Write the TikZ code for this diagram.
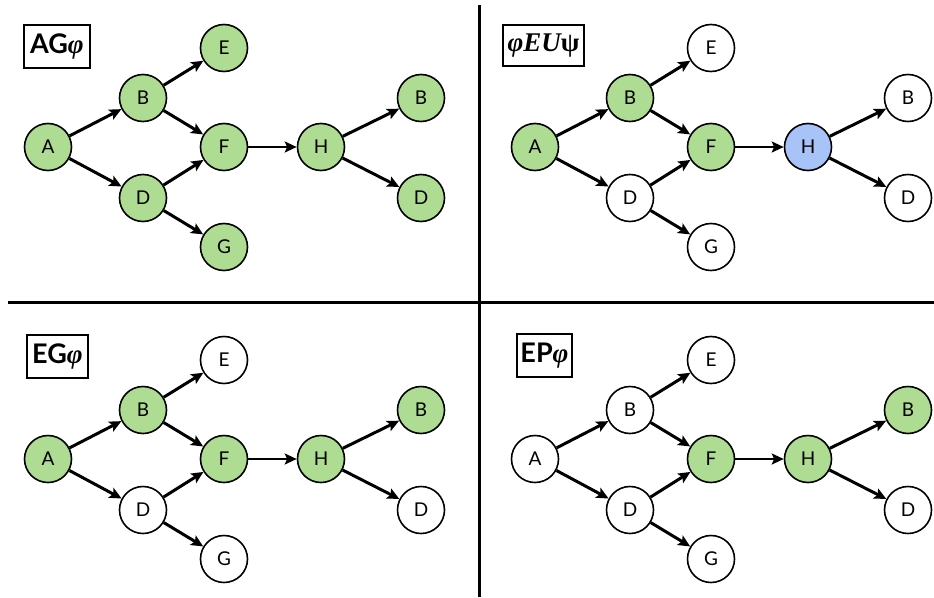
\documentclass[tikz,border=0pt]{standalone}
\usepackage{fontspec}
\setsansfont{Lato}
\newfontfamily\tms{Liberation Serif}
\usetikzlibrary{arrows.meta}
\definecolor{ngreen}{RGB}{174,220,146}
\definecolor{nblue}{RGB}{168,195,248}
\newcommand{\phisym}{{\tms\bfseries\itshape φ}}
\tikzset{
  st/.style={circle,draw=black,line width=1.6pt,minimum size=47pt,inner sep=0pt,
    font=\sffamily\fontsize{19}{19}\selectfont},
  gn/.style={st,fill=ngreen},
  wn/.style={st,fill=white},
  bn/.style={st,fill=nblue},
  edge/.style={line width=3pt,-{Stealth[length=12pt,width=11pt,inset=2.5pt]}},
  lbl/.style={draw=black,line width=1.4pt,fill=white,inner sep=0pt,
    font=\sffamily\bfseries\fontsize{27}{27}\selectfont},
  divider/.style={line width=3pt}
}
\newcommand{\mygraph}[9]{%
  \node[#1] (A) at (48,147) {A};
  \node[#2] (B) at (143,98) {B};
  \node[#3] (D) at (143,198) {D};
  \node[#4] (E) at (224,48) {E};
  \node[#5] (F) at (224,147) {F};
  \node[#6] (G) at (224,247) {G};
  \node[#7] (H) at (321,147) {H};
  \node[#8] (B2) at (421,98) {B};
  \node[#9] (D2) at (421,198) {D};
  \draw[edge] (A) -- (B);
  \draw[edge] (A) -- (D);
  \draw[edge] (B) -- (E);
  \draw[edge] (B) -- (F);
  \draw[edge] (D) -- (F);
  \draw[edge] (D) -- (G);
  \draw[edge,line width=2.4pt] (F) -- (H);
  \draw[edge] (H) -- (B2);
  \draw[edge] (H) -- (D2);
}
\begin{document}
\begin{tikzpicture}[x=1pt,y=-1pt]
\useasboundingbox (0,0) rectangle (934,597);
\fill[white] (0,0) rectangle (934,597);
% dividers
\coordinate (vt) at (479,5);
\coordinate (vb) at (479,597);
\coordinate (hl) at (8,302);
\coordinate (hr) at (934,302);
\draw[divider] (vt) -- (vb);
\draw[divider] (hl) -- (hr);
% panels
\begin{scope}[name prefix=tl-]
  \mygraph{gn}{gn}{gn}{gn}{gn}{gn}{gn}{gn}{gn}
\end{scope}
\begin{scope}[shift={(487,0)},name prefix=tr-]
  \mygraph{gn}{gn}{wn}{wn}{gn}{wn}{bn}{wn}{wn}
\end{scope}
\begin{scope}[shift={(0,312)},name prefix=bl-]
  \mygraph{gn}{gn}{wn}{wn}{gn}{wn}{gn}{gn}{wn}
\end{scope}
\begin{scope}[shift={(487,312)},name prefix=br-]
  \mygraph{wn}{wn}{wn}{wn}{gn}{wn}{gn}{gn}{wn}
\end{scope}
% labels
\node[lbl,minimum width=66pt,minimum height=43pt] (ltl) at (57,46.5) {AG\phisym};
\node[lbl,minimum width=81pt,minimum height=41pt] (ltr) at (543.5,45.5) {{\tms\bfseries\itshape φEU}{\tms\bfseries ψ}};
\node[lbl,minimum width=61pt,minimum height=43pt] (lbl1) at (57.5,356.5) {EG\phisym};
\node[lbl,minimum width=55pt,minimum height=43pt] (lbr) at (544.5,355.5) {EP\phisym};
\end{tikzpicture}
\end{document}
